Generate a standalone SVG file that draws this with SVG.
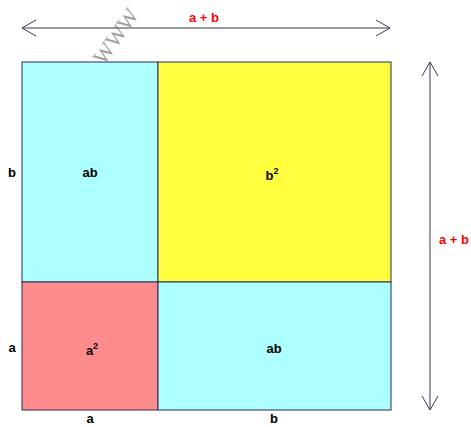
<svg xmlns="http://www.w3.org/2000/svg" width="471" height="427" viewBox="0 0 471 427">
<style>
.lbl{font-family:"Liberation Sans",Arial,sans-serif;font-weight:bold;font-size:13px;fill:#000;text-anchor:middle}
.red{fill:#ff0000}
.sup{font-size:9px}
.cell{stroke:#2a2a55;stroke-width:1}
.dim{stroke:#3a3a55;stroke-width:1;fill:none}
</style>
<rect width="471" height="427" fill="#fff"/>
<text x="104" y="66" transform="rotate(-55 104 66)" font-family="Liberation Serif,serif" font-size="22" fill="#a0a0a0">WWW</text>
<g id="cell-ab-top"><rect class="cell" x="22" y="62" width="136" height="220" fill="#aeffff"/><text class="lbl" x="90" y="177">ab</text></g>
<g id="cell-b2"><rect class="cell" x="158" y="62" width="233" height="220" fill="#ffff40"/><text class="lbl" x="272" y="180">b<tspan class="sup" dy="-6">2</tspan></text></g>
<g id="cell-a2"><rect class="cell" x="22" y="282" width="136" height="128" fill="#ff8c8c"/><text class="lbl" x="92" y="355">a<tspan class="sup" dy="-6">2</tspan></text></g>
<g id="cell-ab-bottom"><rect class="cell" x="158" y="282" width="233" height="128" fill="#aeffff"/><text class="lbl" x="274" y="353">ab</text></g>
<g id="connectors">
<path class="dim" stroke="#606075" d="M22 28H390M36 20L22 28L36 36M376 20L390 28L376 36"/>
<path class="dim" d="M430 62V410M422 76L430 62L438 76M422 396L430 410L438 396"/>
</g>
<g id="labels">
<text class="lbl red" x="204" y="22">a + b</text>
<text class="lbl red" x="454" y="244">a + b</text>
<text class="lbl" x="12" y="177">b</text>
<text class="lbl" x="12" y="352">a</text>
<text class="lbl" x="90" y="423">a</text>
<text class="lbl" x="274" y="423">b</text>
</g>
</svg>
